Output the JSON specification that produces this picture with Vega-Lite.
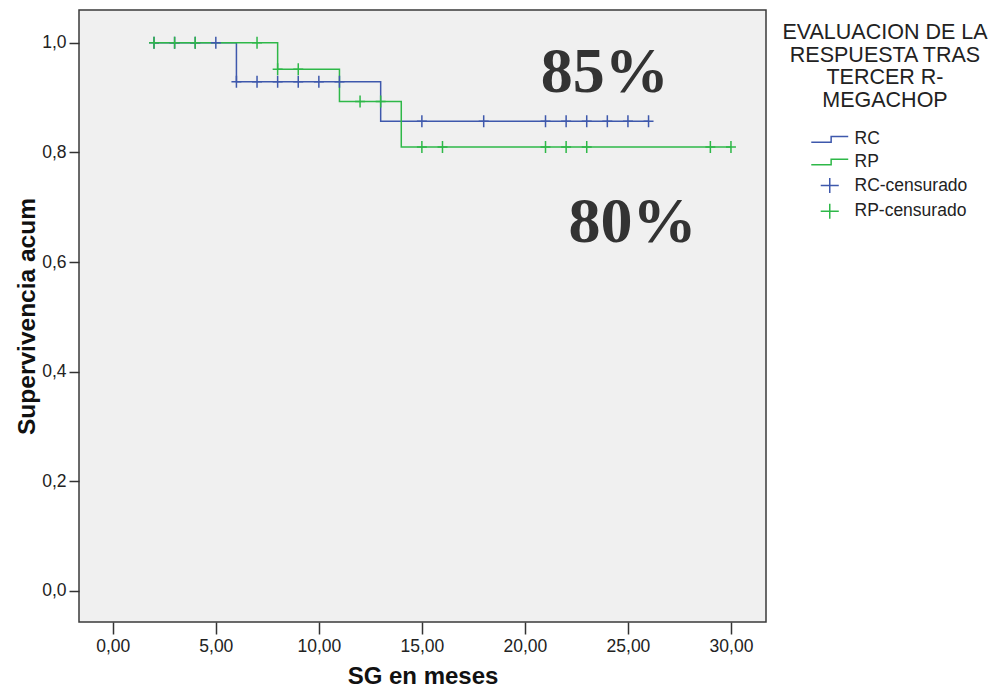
{
  "$schema": "https://vega.github.io/schema/vega-lite/v6.json",
  "autosize": "none",
  "padding": {"left": 79, "top": 10, "right": 227, "bottom": 69},
  "width": 687,
  "height": 612,
  "background": "white",
  "config": {
    "view": {"fill": "#f0f0f0", "stroke": "#3a3a3a", "strokeWidth": 1.5},
    "font": "Liberation Sans"
  },
  "datasets": {
    "curvas": [
      {"t": 2, "s": 1, "grupo": "RC"},
      {"t": 6, "s": 0.929, "grupo": "RC"},
      {"t": 13, "s": 0.857, "grupo": "RC"},
      {"t": 26, "s": 0.857, "grupo": "RC"},
      {"t": 2, "s": 1, "grupo": "RP"},
      {"t": 8, "s": 0.952, "grupo": "RP"},
      {"t": 11, "s": 0.893, "grupo": "RP"},
      {"t": 14, "s": 0.81, "grupo": "RP"},
      {"t": 30, "s": 0.81, "grupo": "RP"}
    ],
    "censuras": [
      {"t": 2, "s": 1, "grupo": "RC-censurado"},
      {"t": 3, "s": 1, "grupo": "RC-censurado"},
      {"t": 4, "s": 1, "grupo": "RC-censurado"},
      {"t": 5, "s": 1, "grupo": "RC-censurado"},
      {"t": 6, "s": 0.929, "grupo": "RC-censurado"},
      {"t": 7, "s": 0.929, "grupo": "RC-censurado"},
      {"t": 8, "s": 0.929, "grupo": "RC-censurado"},
      {"t": 9, "s": 0.929, "grupo": "RC-censurado"},
      {"t": 10, "s": 0.929, "grupo": "RC-censurado"},
      {"t": 11, "s": 0.929, "grupo": "RC-censurado"},
      {"t": 15, "s": 0.857, "grupo": "RC-censurado"},
      {"t": 18, "s": 0.857, "grupo": "RC-censurado"},
      {"t": 21, "s": 0.857, "grupo": "RC-censurado"},
      {"t": 22, "s": 0.857, "grupo": "RC-censurado"},
      {"t": 23, "s": 0.857, "grupo": "RC-censurado"},
      {"t": 24, "s": 0.857, "grupo": "RC-censurado"},
      {"t": 25, "s": 0.857, "grupo": "RC-censurado"},
      {"t": 26, "s": 0.857, "grupo": "RC-censurado"},
      {"t": 2, "s": 1, "grupo": "RP-censurado"},
      {"t": 3, "s": 1, "grupo": "RP-censurado"},
      {"t": 4, "s": 1, "grupo": "RP-censurado"},
      {"t": 7, "s": 1, "grupo": "RP-censurado"},
      {"t": 8, "s": 0.952, "grupo": "RP-censurado"},
      {"t": 9, "s": 0.952, "grupo": "RP-censurado"},
      {"t": 12, "s": 0.893, "grupo": "RP-censurado"},
      {"t": 13, "s": 0.893, "grupo": "RP-censurado"},
      {"t": 15, "s": 0.81, "grupo": "RP-censurado"},
      {"t": 16, "s": 0.81, "grupo": "RP-censurado"},
      {"t": 21, "s": 0.81, "grupo": "RP-censurado"},
      {"t": 22, "s": 0.81, "grupo": "RP-censurado"},
      {"t": 23, "s": 0.81, "grupo": "RP-censurado"},
      {"t": 29, "s": 0.81, "grupo": "RP-censurado"},
      {"t": 30, "s": 0.81, "grupo": "RP-censurado"}
    ],
    "notas": [
      {"t": 23.88, "s": 0.911, "texto": "85%"},
      {"t": 25.22, "s": 0.637, "texto": "80%"}
    ]
  },
  "layer": [
    {
      "data": {"name": "curvas"},
      "mark": {"type": "line", "interpolate": "step-after", "strokeWidth": 1.5},
      "encoding": {
        "x": {
          "field": "t", "type": "quantitative",
          "scale": {"domain": [-1.64, 31.7], "nice": false, "zero": false},
          "axis": {
            "values": [0, 5, 10, 15, 20, 25, 30],
            "labelExpr": "replace(format(datum.value, '.2f'), '.', ',')",
            "title": "SG en meses",
            "titleFontSize": 24, "titleFontWeight": "bold", "titleColor": "#111",
            "titlePadding": 10,
            "labelFontSize": 17.5, "labelColor": "#222", "labelPadding": 3,
            "tickSize": 12, "tickWidth": 1.5, "tickColor": "#333",
            "domain": false, "grid": false
          }
        },
        "y": {
          "field": "s", "type": "quantitative",
          "scale": {"domain": [-0.057, 1.06], "nice": false, "zero": false},
          "axis": {
            "values": [0, 0.2, 0.4, 0.6, 0.8, 1],
            "labelExpr": "replace(format(datum.value, '.1f'), '.', ',')",
            "title": "Supervivencia acum",
            "titleFontSize": 24.5, "titleFontWeight": "bold", "titleColor": "#111",
            "titlePadding": 2,
            "labelFontSize": 17.5, "labelColor": "#222", "labelPadding": 3,
            "tickSize": 10, "tickWidth": 1.5, "tickColor": "#333",
            "domain": false, "grid": false
          }
        },
        "color": {
          "field": "grupo", "type": "nominal",
          "scale": {
            "domain": ["RC", "RP", "RC-censurado", "RP-censurado"],
            "range": ["#3e58ac", "#2eb848", "#3e58ac", "#2eb848"]
          },
          "legend": {
            "orient": "none", "legendX": 703, "legendY": 12,
            "title": ["EVALUACION DE LA", "RESPUESTA TRAS", "TERCER R-", "MEGACHOP"],
            "titleFont": "Liberation Sans", "titleFontSize": 21.5, "titleFontWeight": "normal",
            "titleColor": "#222", "titleLineHeight": 22.7, "titleLimit": 400,
            "titleAnchor": "middle", "titleAlign": "center", "titlePadding": 19,
            "labelFont": "Liberation Sans", "labelFontSize": 17.5, "labelColor": "#222", "labelOffset": 16,
            "labelLimit": 300,
            "symbolSize": 196, "symbolStrokeWidth": 1.5, "symbolOffset": 19,
            "rowPadding": 3.6, "padding": 0,
            "encode": {
              "symbols": {
                "update": {
                  "shape": {"signal": "indexof(datum.value, 'censurado') >= 0 ? 'M-1.29,0H1.29M0,-1.07V1.07' : 'M-2.64,0.4H0.2V-0.4H2.64'"},
                  "fill": {"value": "transparent"},
                  "stroke": {"scale": "color", "field": "value"},
                  "strokeWidth": {"value": 1.5}
                }
              }
            }
          }
        }
      }
    },
    {
      "data": {"name": "censuras"},
      "mark": {"type": "point", "shape": "M-0.83,0H0.83M0,-1V1", "size": 144, "filled": false, "strokeWidth": 1.5, "opacity": 1},
      "encoding": {
        "x": {"field": "t", "type": "quantitative"},
        "y": {"field": "s", "type": "quantitative"},
        "color": {"field": "grupo", "type": "nominal"}
      }
    },
    {
      "data": {"name": "notas"},
      "mark": {"type": "text", "font": "Liberation Serif", "fontWeight": "bold", "fontSize": 64, "color": "#333333", "baseline": "alphabetic", "align": "center"},
      "encoding": {
        "x": {"field": "t", "type": "quantitative"},
        "y": {"field": "s", "type": "quantitative"},
        "text": {"field": "texto"}
      }
    }
  ]
}
